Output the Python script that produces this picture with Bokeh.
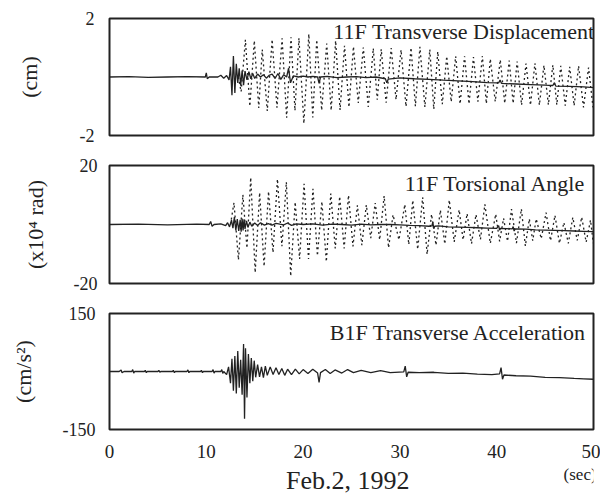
from bokeh.plotting import figure
from bokeh.layouts import column
from bokeh.models import Label, FixedTicker, Range1d
from bokeh.embed import file_html
from bokeh.resources import INLINE

# ---------------- data ----------------
x_ticks = [0, 10, 20, 30, 40, 50]

disp_ticks = [-2, 2]
tors_ticks = [-20, 20]
acc_ticks = [-150, 150]

disp_title = "11F Transverse Displacement"
tors_title = "11F Torsional Angle"
acc_title = "B1F Transverse Acceleration"

disp_ylabel = "(cm)"
tors_ylabel = "(x10\u2074 rad)"
acc_ylabel = "(cm/s\u00b2)"

date_text = "Feb.2, 1992"
unit_text = "(sec)"

# 11F transverse displacement, solid trace (t [s], cm)
disp_solid = [(0, 0), (2, 0.01), (4, -0.01), (6, 0.0), (8, 0.01), (9.9, 0.0), (10.0, 0.14),
              (10.1, -0.06), (10.3, 0.0), (11.2, 0.0), (11.5, 0.06), (11.8, -0.04), (12.1, 0.05),
              (12.35, -0.1), (12.5, 0.35), (12.65, -0.62), (12.8, 0.72), (12.95, -0.55), (13.1, 0.45),
              (13.25, -0.2), (13.4, 0.3), (13.55, -0.3), (13.7, 0.22), (13.85, -0.28), (14.0, 0.2),
              (14.2, -0.1), (14.4, 0.18), (14.6, -0.06), (14.8, 0.12), (15.0, -0.05), (15.3, 0.1),
              (15.6, 0.0), (15.9, 0.08), (16.2, -0.04), (16.5, 0.06), (16.8, 0.1), (17.1, -0.05),
              (17.4, 0.12), (17.7, -0.08), (18.0, 0.08), (18.3, 0.0), (18.5, 0.3), (18.7, -0.2),
              (19.0, 0.04), (19.5, 0.0), (20.0, 0.03), (20.5, 0.0), (21.0, 0.02), (21.5, 0.0),
              (21.65, -0.22), (21.8, 0.0), (22.5, 0.02), (23.5, -0.02), (24.5, 0.0), (25.5, 0.01),
              (26.5, -0.02), (27.5, 0.0), (28.5, -0.06), (28.65, -0.2), (28.8, -0.07), (30, -0.03),
              (31.5, -0.06), (33, -0.08), (34.5, -0.11), (36, -0.13), (37.5, -0.16), (39, -0.19),
              (40.2, -0.2), (40.35, -0.1), (40.5, -0.22), (42, -0.24), (43.5, -0.26), (45, -0.28),
              (45.8, -0.29), (45.95, -0.2), (46.1, -0.31), (47.5, -0.32), (49, -0.34), (50, -0.36)]

# 11F transverse displacement, dotted trace (t [s], cm) - alternate peaks / troughs
disp_dotted = [(13.3, 0.0), (13.6, -0.5), (14.04, 1.27), (14.5, -1.0), (14.96, 1.24), (15.42, -1.06),
               (15.78, 0.94), (16.3, -1.16), (16.8, 1.28), (17.3, -1.05), (17.83, 1.32), (18.3, -1.39),
               (18.75, 1.36), (19.16, -1.15), (19.57, 1.33), (20.08, -1.59), (20.59, 1.47), (21.0, -1.38),
               (21.41, 1.27), (21.92, -1.14), (22.44, 1.14), (22.9, -1.14), (23.36, 1.24), (23.82, -1.13),
               (24.28, 1.07), (24.74, -1.03), (25.2, 1.04), (25.7, -0.89), (26.22, 1.01), (26.73, -1.02),
               (27.25, 0.98), (27.66, -0.78), (28.07, 0.95), (28.58, -0.88), (29.1, 0.99), (29.6, -0.77),
               (30.12, 0.93), (30.63, -1.01), (31.15, 1.0), (31.6, -1.0), (32.07, 1.03), (32.58, -1.03),
               (33.09, 0.94), (33.5, -1.1), (33.91, 0.87), (34.38, -0.93), (34.84, 0.71), (35.3, -0.85),
               (35.76, 0.71), (36.22, -0.92), (36.68, 0.71), (37.14, -0.92), (37.6, 0.68), (38.06, -0.84),
               (38.52, 0.72), (38.93, -0.91), (39.34, 0.62), (39.85, -0.84), (40.37, 0.59), (40.83, -0.9),
               (41.29, 0.56), (41.7, -0.9), (42.11, 0.53), (42.57, -0.96), (43.03, 0.46), (43.49, -0.96),
               (43.95, 0.47), (44.41, -0.96), (44.88, 0.4), (45.34, -0.95), (45.8, 0.41), (46.21, -0.95),
               (46.62, 0.38), (47.08, -0.98), (47.54, 0.35), (48.0, -0.98), (48.46, 0.38), (48.97, -1.04),
               (49.49, 0.32), (49.95, -1.04)]

# 11F torsional angle, solid trace (t [s], x10^4 rad)
tors_solid = [(0, 0), (3, 0.1), (6, -0.1), (9, 0.1), (10.3, 0), (10.45, 1.0), (10.6, -0.6), (10.8, 0),
              (11.5, 0.2), (12.0, -0.4), (12.2, 0.6), (12.4, -0.8), (12.6, 1.5), (12.75, -1.2),
              (12.9, 2.5), (13.05, -2.0), (13.2, 1.8), (13.35, -2.2), (13.5, 1.6), (13.6, -2.4),
              (13.7, 2.0), (13.8, -2.0), (13.9, 1.8), (14.0, -1.5), (14.15, 1.2), (14.3, -1.0),
              (14.5, 0.8), (14.7, -0.6), (15.0, 0.5), (15.3, -0.3), (15.6, 0.6), (16.0, -0.2),
              (16.4, 0.3), (16.8, -0.2), (17.2, 0.4), (17.6, 0.1), (18.0, -0.1), (18.4, 0.5),
              (18.8, -0.3), (19.3, 0.2), (20, 0), (21, 0.2), (22, -0.2), (23, 0.1), (24, 0.0),
              (25, -0.2), (26, 0.1), (27, -0.1), (28, 0.0), (29, 0.0), (30, -0.1), (31, -0.3),
              (32, -0.4), (33, -0.6), (33.3, -0.5), (33.4, 0.8), (33.5, -1.4), (33.6, -0.6),
              (34, -0.5), (35, -0.8), (36, -0.9), (37, -1.0), (38, -1.1), (39, -1.2), (40, -1.3),
              (40.2, -0.4), (40.3, -1.9), (40.4, -1.3), (41, -1.4), (41.6, -1.5), (41.7, -0.7),
              (41.8, -2.2), (41.9, -1.5), (43, -1.6), (44, -1.8), (45, -1.9), (46, -2.0), (47, -2.1),
              (48, -2.2), (49, -2.3), (50, -2.4)]

# 11F torsional angle, dotted trace (t [s], x10^4 rad)
tors_dotted = [(12.5, 0), (12.86, 7.4), (13.32, -12.0), (13.78, 10.1), (14.2, -8.0), (14.59, 15.9),
               (15.05, -16.3), (15.51, 10.8), (15.97, -14.2), (16.43, 11.2), (16.89, -9.5), (17.35, 15.4),
               (17.81, -7.4), (18.27, 14.4), (18.72, -17.5), (19.18, 7.6), (19.64, -11.7), (20.1, 13.8),
               (20.56, -11.7), (21.02, 12.1), (21.48, -10.6), (21.94, 7.8), (22.4, -12.6), (22.86, 10.5),
               (23.32, -8.1), (23.78, 9.5), (24.24, -8.1), (24.69, 9.9), (25.15, -7.4), (25.61, 6.5),
               (26.07, -7.0), (26.53, 6.6), (26.99, -4.6), (27.45, 7.3), (27.91, -5.2), (28.37, 9.7),
               (28.83, -7.9), (29.29, 3.3), (29.9, -5.2), (30.51, 6.8), (30.92, -6.8), (31.33, 8.2),
               (31.84, -8.4), (32.35, 9.2), (32.81, -10.1), (33.27, 3.5), (33.73, -7.0), (34.18, 4.9),
               (34.64, -6.6), (35.1, 8.3), (35.61, -5.9), (36.12, 5.0), (36.53, -5.2), (36.94, 3.7),
               (37.4, -6.5), (37.86, 3.4), (38.32, -5.1), (38.78, 6.8), (39.34, -6.4), (39.9, 3.5),
               (40.3, -5.7), (40.71, 2.1), (41.12, -5.7), (41.53, 5.2), (42.04, -6.3), (42.55, 5.3),
               (42.96, -7.3), (43.37, 1.9), (43.72, -5.5), (44.08, 1.9), (44.6, -4.8), (45.1, 4.0),
               (45.56, -5.5), (46.02, 3.1), (46.48, -6.4), (46.94, 0.7), (47.4, -6.4), (47.86, 2.4),
               (48.32, -5.4), (48.78, 2.5), (49.24, -6.0), (49.69, 1.5), (49.98, -6.3)]

# B1F transverse acceleration (t [s], cm/s^2)
acc_solid = [(0, 0), (1.0, 0), (1.2, 4), (1.3, -3), (1.5, 0), (2.3, 0), (2.4, 5), (2.5, -4), (2.6, 0),
             (3.6, 0), (3.7, 3), (3.8, -3), (3.9, 0), (5.0, 0), (5.1, 3), (5.2, -2), (5.3, 0), (6.5, 0),
             (6.6, 3), (6.7, -3), (6.8, 0), (8.0, 0), (8.1, 4), (8.2, -3), (8.3, 0), (9.4, 0), (9.5, 3),
             (9.6, -3), (9.7, 0), (10.6, 0), (10.7, 5), (10.8, -4), (10.9, 0), (11.5, 0), (11.6, 5),
             (11.7, -5), (11.8, 0),
             (12.1, -8), (12.3, 12), (12.5, -30), (12.65, 33), (12.8, -50), (12.95, 40),
             (13.1, -57), (13.25, 53), (13.4, -42), (13.55, 30), (13.7, -60), (13.85, 71), (13.95, -122),
             (14.05, 60), (14.2, -67), (14.35, 45), (14.5, -30), (14.65, 35), (14.8, -25), (14.95, 28),
             (15.1, -15), (15.3, 18), (15.5, -14), (15.7, 12), (15.9, -16), (16.1, 14), (16.3, -10),
             (16.6, 12), (16.9, -8), (17.2, 10), (17.5, -8), (17.8, 8), (18.1, -10), (18.4, 6), (18.8, -8),
             (19.2, 6), (19.6, -6), (20.0, 5), (20.5, -5), (21.0, 6), (21.5, -4), (21.65, -28), (21.8, -3),
             (22.3, 5), (22.8, -5), (23.3, 4), (24.0, -4), (24.6, 5), (25.2, -3), (26.0, 3), (27, -3),
             (28, 2), (29, -3), (30.4, -1), (30.55, 14), (30.7, -14), (30.85, -2), (32, -3), (33.5, -2),
             (35, -5), (36.5, -4), (38, -7), (39.5, -8), (40.3, -6), (40.45, 10), (40.6, -20), (40.75, -9),
             (42, -11), (43.5, -12), (45, -15), (46.5, -16), (48, -18), (49, -19), (50, -20)]

# ---------------- styling ----------------
FONT = "Liberation Serif"
INK = "#222222"


def xy(pairs):
    return [a for a, b in pairs], [b for a, b in pairs]


def panel(width, height, left, right, top, bottom, yr, yticks, ylabel, tick_standoff, lab_standoff,
          show_x=False):
    p = figure(width=width, height=height, x_range=Range1d(0, 50), y_range=Range1d(*yr),
               output_backend="svg", toolbar_location=None,
               x_axis_location="below" if show_x else None,
               min_border_left=left, min_border_right=right,
               min_border_top=top, min_border_bottom=bottom)
    p.xgrid.visible = False
    p.ygrid.visible = False
    p.outline_line_color = INK
    p.outline_line_width = 2
    p.background_fill_color = "white"
    p.border_fill_color = "white"
    ya = p.yaxis[0]
    ya.ticker = FixedTicker(ticks=yticks)
    ya.major_label_overrides = {yticks[0]: "-" + str(abs(yticks[0])), yticks[1]: str(yticks[1])}
    ya.axis_line_color = None
    ya.major_tick_line_color = None
    ya.minor_tick_line_color = None
    ya.major_label_text_font = FONT
    ya.major_label_text_font_size = "18px"
    ya.major_label_text_color = INK
    ya.major_label_standoff = tick_standoff
    ya.axis_label = ylabel
    ya.axis_label_text_font = FONT
    ya.axis_label_text_font_size = "22px"
    ya.axis_label_text_font_style = "normal"
    ya.axis_label_text_color = INK
    ya.axis_label_standoff = lab_standoff
    if show_x:
        xa = p.xaxis[0]
        xa.ticker = FixedTicker(ticks=x_ticks)
        xa.axis_line_color = None
        xa.major_tick_line_color = None
        xa.minor_tick_line_color = None
        xa.major_label_text_font = FONT
        xa.major_label_text_font_size = "19px"
        xa.major_label_text_color = INK
        xa.major_label_standoff = 9
    return p


def title(p, text, x, y):
    p.add_layout(Label(x=x, y=y, text=text, text_align="right", text_baseline="alphabetic",
                       text_font=FONT, text_font_size="22px", text_color=INK))


# panel 1
p1 = panel(600, 150, 109, 3, 18, 15, (-2, 2), disp_ticks, disp_ylabel, 9, 35)
t, v = xy(disp_dotted)
p1.line(t, v, line_color=INK, line_width=1.3, line_dash="2 3")
t, v = xy(disp_solid)
p1.line(t, v, line_color=INK, line_width=1.3)
title(p1, disp_title, 50.1, 1.56)

# panel 2
p2 = panel(600, 147, 106, 4, 15, 14, (-20, 20), tors_ticks, tors_ylabel, 6, 23)
t, v = xy(tors_dotted)
p2.line(t, v, line_color=INK, line_width=1.3, line_dash="2 3")
t, v = xy(tors_solid)
p2.line(t, v, line_color=INK, line_width=1.3)
title(p2, tors_title, 49.2, 13.9)

# panel 3
p3 = panel(600, 163, 103, 7, 16, 30, (-150, 150), acc_ticks, acc_ylabel, 8, 24, show_x=True)
t, v = xy(acc_solid)
p3.line(t, v, line_color=INK, line_width=1.3)
title(p3, acc_title, 49.3, 101)

# caption strip under panel 3 (same horizontal scale, y in pixels from its bottom)
p4 = figure(width=600, height=36, x_range=Range1d(0, 50.6), y_range=Range1d(0, 36),
            output_backend="svg", toolbar_location=None, x_axis_location=None, y_axis_location=None,
            min_border_left=103, min_border_right=1, min_border_top=0, min_border_bottom=0)
p4.xgrid.visible = False
p4.ygrid.visible = False
p4.outline_line_color = None
p4.add_layout(Label(x=49.2, y=22, text=unit_text, text_align="center", text_baseline="alphabetic",
                    text_font=FONT, text_font_size="17px", text_color=INK))
p4.add_layout(Label(x=24.9, y=16, text=date_text, text_align="center", text_baseline="alphabetic",
                    text_font=FONT, text_font_size="26px", text_color=INK))

layout = column(p1, p2, p3, p4)
open("out.html", "w").write(file_html(layout, INLINE))
